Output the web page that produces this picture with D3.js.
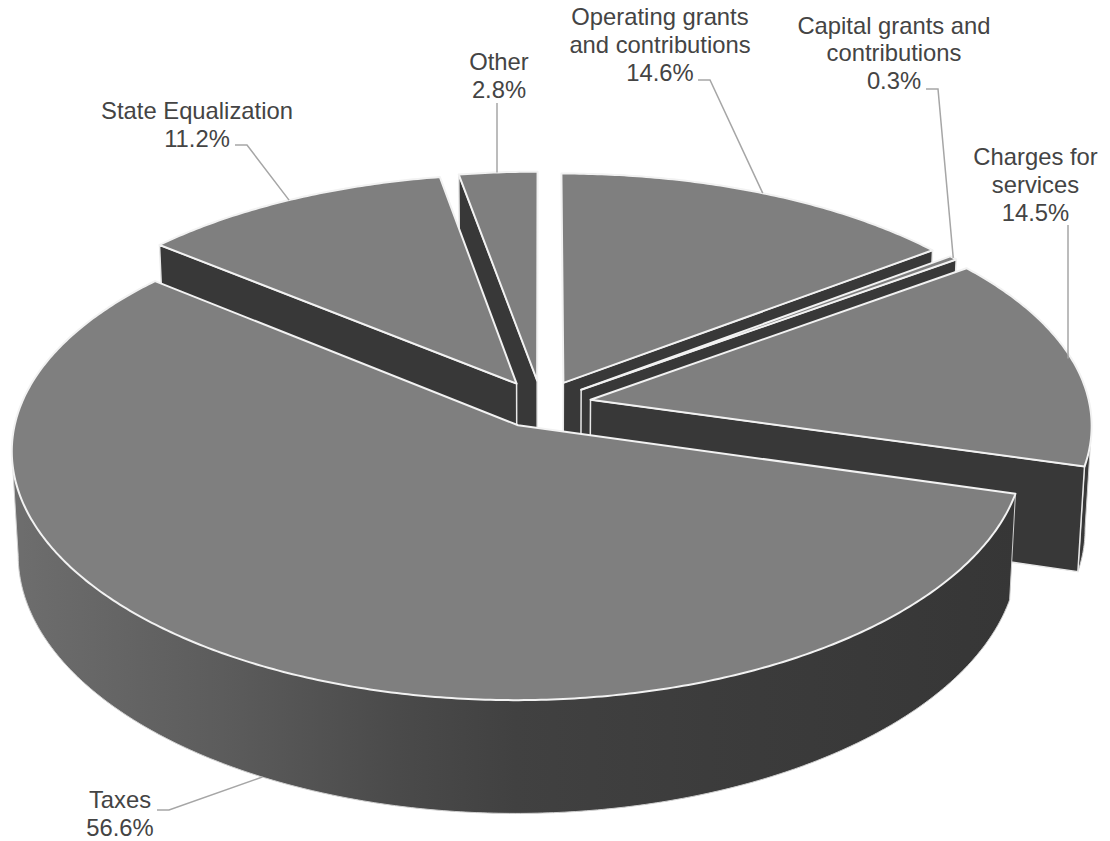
<!DOCTYPE html>
<html lang="en">

<head>
    <meta charset="UTF-8">
    <title>Revenue pie</title>
    <script src="https://d3js.org/d3.v7.min.js"></script>
    <style>
        body { margin: 0; background: #fff; }
        text { font-family: "Liberation Sans", Arial, sans-serif; font-size: 23.8px; fill: #444; text-anchor: middle; }
    </style>
</head>

<body>
    <script>
        var categories = ["Operating grants and contributions", "Capital grants and contributions", "Charges for services", "Taxes", "State Equalization", "Other"];
        var values = [14.6, 0.3, 14.5, 56.6, 11.2, 2.8];
        var labelLines = [
            ["Operating grants", "and contributions"],
            ["Capital grants and", "contributions"],
            ["Charges for", "services"],
            ["Taxes"],
            ["State Equalization"],
            ["Other"]
        ];

        var width = 1110, height = 841;

        // perspective of the tilted disc, fitted by eye to the reference
        var cx = 541.5, cy = 404;
        var radiusX = 499, radiusY = 238, tiltX = 0.1, tiltY = 0.115;
        var depth = 104, depthShrink = 0.012, explode = 0.1;

        var svg = d3.select("body").append("svg")
            .attr("width", width)
            .attr("height", height)
            .style("display", "block");

        var pie = d3.pie().sort(null).value(function (d) { return d; });
        var slices = pie(values).map(function (s, i) {
            var mid = (s.startAngle + s.endAngle) / 2;
            return {
                i: i, start: s.startAngle, end: s.endAngle, mid: mid,
                du: explode * Math.sin(mid), dv: -explode * Math.cos(mid)
            };
        });

        // r=0 is the apex, r=1 the rim. low=true gives the point on the underside
        function project(s, angle, r, low) {
            var u = r * Math.sin(angle) + s.du;
            var v = -r * Math.cos(angle) + s.dv;
            var shrink = low ? depthShrink : 0;
            return [
                cx + radiusX * u / (1 - tiltX * v + shrink),
                cy + (radiusY * v + (low ? depth : 0)) / (1 - tiltY * v + shrink)
            ];
        }

        function arcAngles(a, b) {
            var n = Math.max(2, Math.ceil((b - a) / 0.01));
            return d3.range(n + 1).map(function (k) { return a + (b - a) * k / n; });
        }

        var openLine = d3.line();
        var closedLine = d3.line().curve(d3.curveLinearClosed);

        var defs = svg.append("defs");
        var wallGrad = defs.append("linearGradient")
            .attr("id", "wall")
            .attr("gradientUnits", "userSpaceOnUse")
            .attr("x1", 10).attr("x2", 1020).attr("y1", 0).attr("y2", 0);
        [[0, "#6e6e6e"], [0.21, "#5c5c5c"], [0.385, "#4a4a4a"], [0.5, "#414141"], [0.69, "#3c3c3c"], [1, "#363636"]].forEach(function (p) {
            wallGrad.append("stop").attr("offset", p[0]).attr("stop-color", p[1]);
        });

        function drawRadialWall(g, s, angle) {
            var pts = [project(s, 0, 0, false), project(s, angle, 1, false), project(s, angle, 1, true), project(s, 0, 0, true)];
            g.append("path")
                .attr("d", closedLine(pts))
                .attr("fill", "#383838")
                .attr("stroke", "#e8e8e8")
                .attr("stroke-width", 1.5)
                .attr("stroke-linejoin", "round");
        }

        function drawRimWall(g, s, a, b) {
            if (b <= a) return;
            var angles = arcAngles(a, b);
            var upper = angles.map(function (t) { return project(s, t, 1, false); });
            var lower = angles.map(function (t) { return project(s, t, 1, true); });
            g.append("path")
                .attr("d", closedLine(upper.concat(lower.slice().reverse())))
                .attr("fill", s.i === 3 ? "url(#wall)" : "#383838");
            // only the outline of the wall, the top face draws its own edge
            g.append("path")
                .attr("d", openLine([upper[0]].concat(lower, [upper[upper.length - 1]])))
                .attr("fill", "none")
                .attr("stroke", "#d0d0d0")
                .attr("stroke-width", 1);
        }

        function drawTop(g, s) {
            var pts = [project(s, 0, 0, false)].concat(arcAngles(s.start, s.end).map(function (t) { return project(s, t, 1, false); }));
            g.append("path")
                .attr("d", closedLine(pts))
                .attr("fill", "#7f7f7f")
                .attr("stroke", "#f2f2f2")
                .attr("stroke-width", 2)
                .attr("stroke-linejoin", "round");
        }

        // back slices first, so the nearer ones paint over them
        var paintOrder = [5, 0, 1, 4, 2, 3];
        // rim is only seen between the two silhouette points of the disc
        var rimFrom = 96 * Math.PI / 180, rimTo = 264 * Math.PI / 180;
        paintOrder.forEach(function (i) {
            var s = slices[i];
            var g = svg.append("g");
            drawRimWall(g, s, Math.max(s.start, rimFrom), Math.min(s.end, rimTo));
            if (Math.sin(s.end) > 1e-6) drawRadialWall(g, s, s.end);
            if (Math.sin(s.start) < -1e-6) drawRadialWall(g, s, s.start);
            drawTop(g, s);
        });

        // label block: centre x, first baseline, elbow start x, elbow y
        var labelLayout = [
            { x: 660, y: 25, ex: 698, ey: 80 },
            { x: 894, y: 33.5, ex: 926, ey: 89 },
            { x: 1035.5, y: 165, ex: 1068, ey: 225 },
            { x: 120, y: 808, ex: 157, ey: 810 },
            { x: 197, y: 119, ex: 235, ey: 145 },
            { x: 499, y: 70, ex: 497, ey: 103 }
        ];
        var lineStep = 27.8;

        slices.forEach(function (s) {
            var lay = labelLayout[s.i];
            var lines = labelLines[s.i].concat([values[s.i].toFixed(1) + "%"]);
            var t = svg.append("text");
            lines.forEach(function (l, k) {
                t.append("tspan").attr("x", lay.x).attr("y", lay.y + k * lineStep).text(l);
            });

            // leader ends on the rim; the front slice ends on the underside edge
            var end = project(s, s.mid, 1, s.i === 3);
            var pts;
            if (s.i === 5 || s.i === 2) {
                pts = [[lay.ex, lay.ey], [lay.ex, end[1]]];
            } else {
                pts = [[lay.ex, lay.ey], [lay.ex + 12, lay.ey], end];
            }
            svg.append("path")
                .attr("d", openLine(pts))
                .attr("fill", "none")
                .attr("stroke", "#a6a6a6")
                .attr("stroke-width", 1.5);
        });
    </script>
</body>

</html>
